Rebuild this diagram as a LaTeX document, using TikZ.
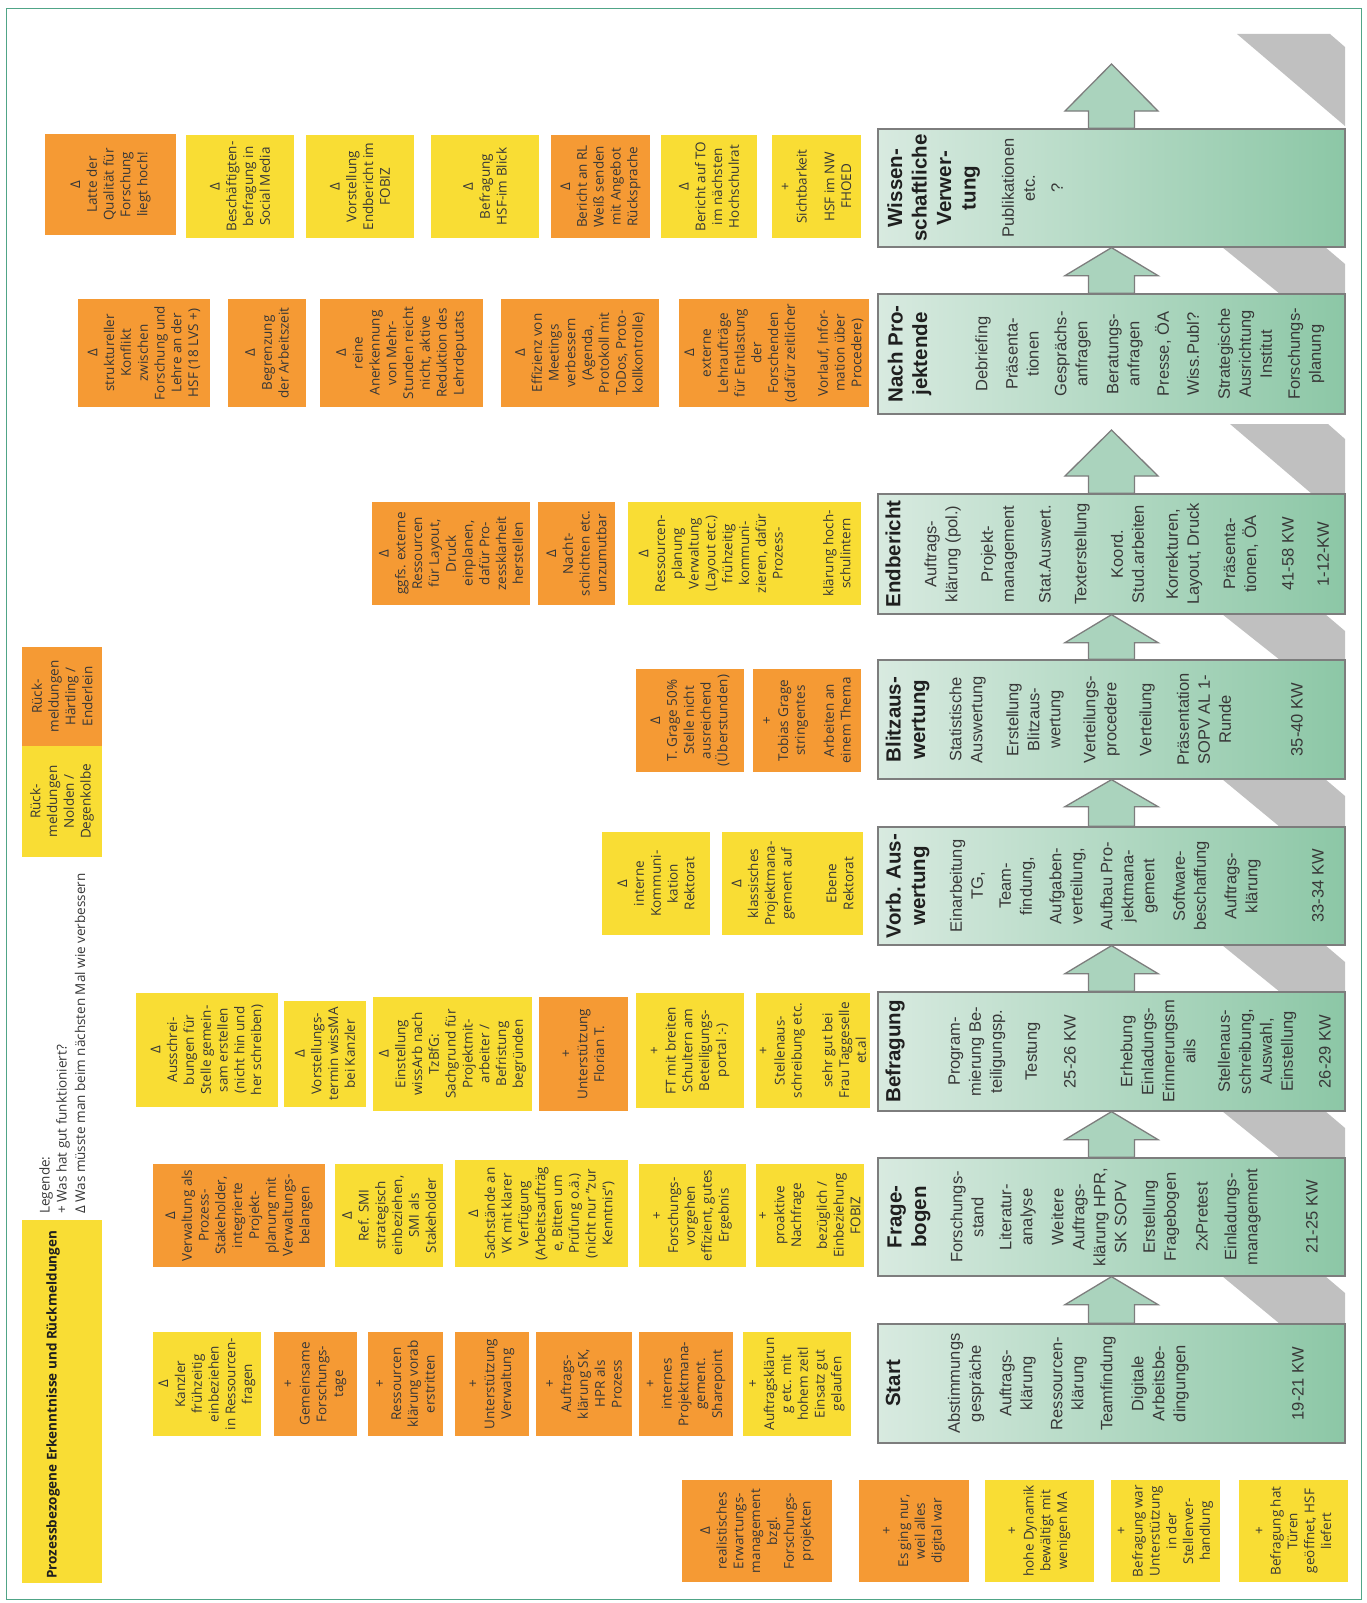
\documentclass[tikz,border=0pt]{standalone}
\usepackage{fontspec}
\setmainfont{Open Sans}
\newfontfamily\arialf{Liberation Sans}
\usetikzlibrary{calc}
\definecolor{org}{RGB}{245,154,52}
\definecolor{yel}{RGB}{249,221,52}
\definecolor{txt}{RGB}{55,55,55}
\definecolor{boxl}{RGB}{216,234,224}
\definecolor{boxr}{RGB}{140,199,166}
\definecolor{arrf}{RGB}{170,211,189}
\definecolor{edge}{RGB}{125,125,125}
\definecolor{shad}{RGB}{192,192,192}
\definecolor{framec}{RGB}{80,165,135}
\tikzset{
 stk/.style={rotate=90, inner sep=0pt, align=center, text=txt, font=\fontsize{13.5}{16.8}\selectfont},
 phase/.style={draw=edge, line width=1.3pt, left color=boxl, right color=boxr, minimum width=467pt, inner sep=0pt},
 body/.style={rotate=90, inner sep=0pt, align=center, text=black!78, font=\arialf\fontsize{16.5}{21}\selectfont},
 ttl/.style={rotate=90, inner sep=0pt, align=center, text=black!88, font=\arialf\bfseries\fontsize{20.5}{24.5}\selectfont},
 barrow/.style={draw=edge, line width=1.3pt, fill=arrf, line join=miter},
 shadowband/.style={fill=shad},
 lgd/.style={rotate=90, inner sep=0pt, anchor=west, text=txt, font=\fontsize{13.5}{16}\selectfont},
}
\newcommand\mknote[7]{\node[stk,fill=#2,minimum width=#6pt,minimum height=#5pt] (#1) at (#3,#4) {#7};}
\newcommand\blockarrow[3]{\draw[barrow] ($(#1.north)+(-23,0)$) -- ($(#2)+(-23,#3)$) -- ($(#2)+(-46.5,#3)$) -- (#2) -- ($(#2)+(46.5,#3)$) -- ($(#2)+(23,#3)$) -- ($(#1.north)+(23,0)$) -- cycle;}
\newcommand\gapshadow[2]{\fill[shadowband] (1222,#1) -- (1325,#1) -- (1345,#1+17) -- (1345,#2) -- (1280,#2) -- cycle;}
\begin{document}
\begin{tikzpicture}[x=1pt,y=-1pt]
\useasboundingbox (0,0) rectangle (1367,1603);
\fill[white] (0,0) rectangle (1367,1603);
\draw[framec, line width=1pt] (6,9) rectangle (1361,1599);

% ---------- shadows ----------
\fill[shadowband] (1237,34) -- (1330,34) -- (1345,47) -- (1345,126) -- cycle;
\fill[shadowband] (1230,424) -- (1328,424) -- (1345,439) -- (1345,494) -- (1312,494) -- cycle;
\gapshadow{247}{294}
\gapshadow{614}{660}
\gapshadow{779}{827}
\gapshadow{945}{992}
\gapshadow{1111}{1158}
\gapshadow{1276}{1324}

% ---------- phase boxes ----------
\coordinate (tipB) at (1111.5,64);
\coordinate (tipA) at (1111.5,430);
\node[phase, minimum height=118pt] (wiss) at (1111.5,188) {};
\node[phase, minimum height=120pt] (nach) at (1111.5,354) {};
\node[phase, minimum height=120pt] (endb) at (1111.5,554) {};
\node[phase, minimum height=119pt] (blitz) at (1111.5,719.5) {};
\node[phase, minimum height=118pt] (vorb) at (1111.5,886) {};
\node[phase, minimum height=119pt] (befr) at (1111.5,1051.5) {};
\node[phase, minimum height=118pt] (frage) at (1111.5,1217) {};
\node[phase, minimum height=119pt] (start) at (1111.5,1383.5) {};

\blockarrow{start}{frage.south}{28}
\blockarrow{frage}{befr.south}{28}
\blockarrow{befr}{vorb.south}{28}
\blockarrow{vorb}{blitz.south}{27}
\blockarrow{blitz}{endb.south}{28}
\blockarrow{endb}{tipA}{46}
\blockarrow{nach}{wiss.south}{28}
\blockarrow{wiss}{tipB}{47}

% redraw boxes on top of arrows
\node[phase, minimum height=118pt] (wissT) at (wiss) {};
\node[phase, minimum height=120pt] (nachT) at (nach) {};
\node[phase, minimum height=120pt] (endbT) at (endb) {};
\node[phase, minimum height=119pt] (blitzT) at (blitz) {};
\node[phase, minimum height=118pt] (vorbT) at (vorb) {};
\node[phase, minimum height=119pt] (befrT) at (befr) {};
\node[phase, minimum height=118pt] (frageT) at (frage) {};
\node[phase, minimum height=119pt] (startT) at (start) {};

% ---------- Start ----------
\node[ttl] (st0) at (893,1383.5) {Start};
\node[body] (st1) at (966,1383.5) {Abstimmungs\\gespräche};
\node[body] (st2) at (1017.5,1383.5) {Auftrags-\\klärung};
\node[body] (st3) at (1069,1383.5) {Ressourcen-\\klärung};
\node[body] (st4) at (1108,1383.5) {Teamfindung};
\node[body] (st5) at (1160,1383.5) {Digitale\\Arbeitsbe-\\dingungen};
\node[body] (st6) at (1298,1383.5) {19-21 KW};
% ---------- Fragebogen ----------
\node[ttl] (fr0) at (909,1217) {Frage-\\bogen};
\node[body] (fr1) at (967,1217) {Forschungs-\\stand};
\node[body] (fr2) at (1017.5,1217) {Literatur-\\analyse};
\node[body] (fr3) at (1089,1217) {Weitere\\Auftrags-\\klärung HPR,\\SK SOPV};
\node[body] (fr4) at (1161,1217) {Erstellung\\Fragebogen};
\node[body] (fr5) at (1202,1217) {2xPretest};
\node[body] (fr6) at (1242.5,1217) {Einladungs-\\management};
\node[body] (fr7) at (1312,1217) {21-25 KW};
% ---------- Befragung ----------
\node[ttl] (be0) at (895,1051.5) {Befragung};
\node[body] (be1) at (977,1051.5) {Program-\\mierung Be-\\teiligungsp.};
\node[body] (be2) at (1033,1051.5) {Testung};
\node[body] (be3) at (1070,1051.5) {25-26 KW};
\node[body] (be4) at (1158,1051.5) {Erhebung\\Einladungs-\\Erinnerungsm\\ails};
\node[body] (be5) at (1257,1051.5) {Stellenaus-\\schreibung,\\Auswahl,\\Einstellung};
\node[body] (be6) at (1325,1051.5) {26-29 KW};
% ---------- Vorb. Auswertung ----------
\node[ttl] (vo0) at (907.5,886) {Vorb. Aus-\\wertung};
\node[body] (vo1) at (967.5,886) {Einarbeitung\\TG,};
\node[body] (vo2) at (1017.5,886) {Team-\\findung,};
\node[body] (vo3) at (1067.5,886) {Aufgaben-\\verteilung,};
\node[body] (vo4) at (1129,886) {Aufbau Pro-\\jektmana-\\gement};
\node[body] (vo5) at (1191,886) {Software-\\beschaffung};
\node[body] (vo6) at (1242.5,886) {Auftrags-\\klärung};
\node[body] (vo7) at (1318,886) {33-34 KW};
% ---------- Blitzauswertung ----------
\node[ttl] (bl0) at (907.5,719.5) {Blitzaus-\\wertung};
\node[body] (bl1) at (967.5,719.5) {Statistische\\Auswertung};
\node[body] (bl2) at (1035,719.5) {Erstellung\\Blitzaus-\\wertung};
\node[body] (bl3) at (1101.5,719.5) {Verteilungs-\\procedere};
\node[body] (bl4) at (1147,719.5) {Verteilung};
\node[body] (bl5) at (1204,719.5) {Präsentation\\SOPV AL 1-\\Runde};
\node[body] (bl6) at (1297,719.5) {35-40 KW};
% ---------- Endbericht ----------
\node[ttl] (en0) at (893,554) {Endbericht};
\node[body] (en1) at (942.5,554) {Auftrags-\\klärung (pol.)};
\node[body] (en2) at (999,554) {Projekt-\\management};
\node[body] (en3) at (1045,554) {Stat.Auswert.};
\node[body] (en4) at (1082,554) {Texterstellung};
\node[body] (en5) at (1127.5,554) {Koord.\\Stud.arbeiten};
\node[body] (en6) at (1184,554) {Korrekturen,\\Layout, Druck};
\node[body] (en7) at (1241,554) {Präsenta-\\tionen, ÖA};
\node[body] (en8) at (1288,554) {41-58 KW};
\node[body] (en9) at (1323,554) {1-12-KW};
% ---------- Nach Projektende ----------
\node[ttl] (na0) at (909.5,354) {Nach Pro-\\jektende};
\node[body] (na1) at (983,354) {Debriefing};
\node[body] (na2) at (1022.5,354) {Präsenta-\\tionen};
\node[body] (na3) at (1072.5,354) {Gesprächs-\\anfragen};
\node[body] (na4) at (1125,354) {Beratungs-\\anfragen};
\node[body] (na5) at (1163,354) {Presse, ÖA};
\node[body] (na6) at (1193,354) {Wiss.Publ?};
\node[body] (na7) at (1245,354) {Strategische\\Ausrichtung\\Institut};
\node[body] (na8) at (1306,354) {Forschungs-\\planung};
% ---------- Wissenschaftliche Verwertung ----------
\node[ttl] (wi0) at (933.5,188) {Wissen-\\schaftliche\\Verwer-\\tung};
\node[body] (wi1) at (1018.5,188) {Publikationen\\etc.};
\node[body] (wi2) at (1057,188) {?};

% ---------- sticky notes row 1 ----------
\mknote{n1}{org}{110.5}{184.5}{131}{101}{Δ\\Latte der\\Qualität für\\Forschung\\liegt hoch!}
\mknote{n2}{yel}{240}{186.5}{108}{103}{Δ\\Beschäftigten-\\befragung in\\Social Media}
\mknote{n3}{yel}{360}{186.5}{108}{103}{Δ\\Vorstellung\\Endbericht im\\FOBIZ}
\mknote{n4}{yel}{485}{186.5}{108}{103}{Δ\\Befragung\\HSF-im Blick}
\mknote{n5}{org}{600.5}{186.5}{99}{103}{Δ\\Bericht an RL\\Weiß senden\\mit Angebot\\Rücksprache}
\mknote{n6}{yel}{709}{186.5}{96}{103}{Δ\\Bericht auf TO\\im nächsten\\Hochschulrat}
\mknote{n7}{yel}{816.5}{186.5}{89}{103}{+\\Sichtbarkeit\\[11pt]HSF im NW\\FHOED}
% ---------- row 2 ----------
\mknote{n8}{org}{144}{353}{132}{108}{Δ\\struktureller\\Konflikt\\zwischen\\Forschung und\\Lehre an der\\HSF (18 LVS +)}
\mknote{n9}{org}{267}{353}{78}{108}{Δ\\Begrenzung\\der Arbeitszeit}
\mknote{n10}{org}{401.5}{353}{163}{108}{Δ\\reine\\Anerkennung\\von Mehr-\\Stunden reicht\\nicht, aktive\\Reduktion des\\Lehrdeputats}
\mknote{n11}{org}{580}{353}{158}{108}{Δ\\Effizienz von\\Meetings\\verbessern\\(Agenda,\\Protokoll mit\\ToDos, Proto-\\kollkontrolle)}
\mknote{n12}{org}{774}{353}{190}{108}{Δ\\externe\\Lehraufträge\\für Entlastung\\der\\Forschenden\\(dafür zeitlicher\\[16pt]Vorlauf, Infor-\\mation über\\Procedere)}
% ---------- row 3 ----------
\mknote{n13}{org}{451}{553.5}{158}{103}{Δ\\ggfs. externe\\Ressourcen\\für Layout,\\Druck\\einplanen,\\dafür Pro-\\zessklarheit\\herstellen}
\mknote{n14}{org}{576.5}{553.5}{77}{103}{Δ\\Nacht-\\schichten etc.\\unzumutbar}
\mknote{n15}{yel}{744.5}{553.5}{233}{103}{Δ\\Ressourcen-\\planung\\Verwaltung\\(Layout etc.)\\frühzeitig\\kommuni-\\zieren, dafür\\Prozess-\\[34pt]klärung hoch-\\schulintern}
% ---------- row 4 ----------
\mknote{n16}{org}{690}{720.5}{108}{103}{Δ\\T. Grage 50\%\\Stelle nicht\\ausreichend\\(Überstunden)}
\mknote{n17}{org}{807}{720.5}{108}{103}{+\\Tobias Grage\\stringentes\\[12pt]Arbeiten an\\einem Thema}
\mknote{n18}{yel}{656}{883.5}{108}{103}{Δ\\interne\\Kommuni-\\kation\\Rektorat}
\mknote{n19}{yel}{792.5}{883.5}{141}{103}{Δ\\klassisches\\Projektmana-\\gement auf\\[28pt]Ebene\\Rektorat}
% ---------- row 5 ----------
\mknote{n20}{yel}{207}{1050}{142}{114}{Δ\\Ausschrei-\\bungen für\\Stelle gemein-\\sam erstellen\\(nicht hin und\\her schreiben)}
\mknote{n21}{yel}{325}{1054}{82}{106}{Δ\\Vorstellungs-\\termin wissMA\\bei Kanzler}
\mknote{n22}{yel}{452.5}{1054}{159}{114}{Δ\\Einstellung\\wissArb nach\\TzBfG:\\Sachgrund für\\Projektmit-\\arbeiter /\\Befristung\\begründen}
\mknote{n23}{org}{583.5}{1054}{89}{114}{+\\Unterstützung\\Florian T.}
\mknote{n24}{yel}{690}{1050.5}{108}{115}{+\\FT mit breiten\\Schultern am\\Beteiligungs-\\portal :-)}
\mknote{n25}{yel}{813}{1050.5}{114}{115}{+\\Stellenaus-\\schreibung etc.\\[14pt]sehr gut bei\\Frau Taggeselle\\et.al}
% ---------- row 6 ----------
\mknote{n26}{org}{239}{1215.5}{172}{103}{Δ\\Verwaltung als\\Prozess-\\Stakeholder,\\integrierte\\Projekt-\\planung mit\\Verwaltungs-\\belangen}
\mknote{n27}{yel}{389}{1215.5}{108}{103}{Δ\\Ref. SMI\\strategisch\\einbeziehen,\\SMI als\\Stakeholder}
\mknote{n28}{yel}{541.5}{1213.5}{173}{107}{Δ\\Sachstände an\\VK mit klarer\\Verfügung\\(Arbeitsaufträg\\e, Bitten um\\Prüfung o.ä.)\\(nicht nur "zur\\Kenntnis")}
\mknote{n29}{yel}{692.5}{1215.5}{107}{103}{+\\Forschungs-\\vorgehen\\effizient, gutes\\Ergebnis}
\mknote{n30}{yel}{810}{1215.5}{108}{103}{+\\proaktive\\Nachfrage\\[9pt]bezüglich /\\Einbeziehung\\FOBIZ}
% ---------- row 7 ----------
\mknote{n31}{yel}{207}{1384}{108}{104}{Δ\\Kanzler\\frühzeitig\\einbeziehen\\in Ressourcen-\\fragen}
\mknote{n32}{org}{315.5}{1384}{83}{104}{+\\Gemeinsame\\Forschungs-\\tage}
\mknote{n33}{org}{405.5}{1384}{75}{104}{+\\Ressourcen\\klärung vorab\\erstritten}
\mknote{n34}{org}{492}{1384}{74}{104}{+\\Unterstützung\\Verwaltung}
\mknote{n35}{org}{584}{1384}{96}{104}{+\\Auftrags-\\klärung SK,\\HPR als\\Prozess}
\mknote{n36}{org}{686}{1384}{94}{104}{+\\internes\\Projektmana-\\gement.\\Sharepoint}
\mknote{n37}{yel}{797}{1384}{108}{104}{+\\Auftragsklärun\\g etc. mit\\hohem zeitl\\Einsatz gut\\gelaufen}
% ---------- row 8 ----------
\mknote{n38}{org}{757}{1531}{150}{102}{Δ\\realistisches\\Erwartungs-\\management\\bzgl.\\Forschungs-\\projekten}
\mknote{n39}{org}{914}{1531}{110}{102}{+\\Es ging nur,\\weil alles\\digital war}
\mknote{n40}{yel}{1039.5}{1531}{109}{102}{+\\hohe Dynamik\\bewältigt mit\\wenigen MA}
\mknote{n41}{yel}{1165.5}{1531}{109}{102}{+\\Befragung war\\Unterstützung\\in der\\Stellenver-\\handlung}
\mknote{n42}{yel}{1293.5}{1531}{109}{102}{+\\Befragung hat\\Türen\\geöffnet, HSF\\liefert}
% ---------- left column ----------
\mknote{n43}{org}{62}{696.5}{80}{99}{Rück-\\meldungen\\Härtling /\\Enderlein}
\mknote{n44}{yel}{62}{801.5}{80}{111}{Rück-\\meldungen\\Nolden /\\Degenkolbe}
\node[fill=yel, inner sep=0pt, minimum width=80pt, minimum height=363pt] (ttlbox) at (62,1401.5) {};
\node[rotate=90, anchor=west, inner sep=0pt, text=black!88, font=\bfseries\fontsize{13.5}{16}\selectfont] (ttltext) at (53,1579) {Prozessbezogene Erkenntnisse und Rückmeldungen};
\node[lgd] (lg1) at (46,1214) {Legende:};
\node[lgd] (lg2) at (63,1214) {+ Was hat gut funktioniert?};
\node[lgd] (lg3) at (80,1214) {Δ Was müsste man beim nächsten Mal wie verbessern};
\end{tikzpicture}
\end{document}
